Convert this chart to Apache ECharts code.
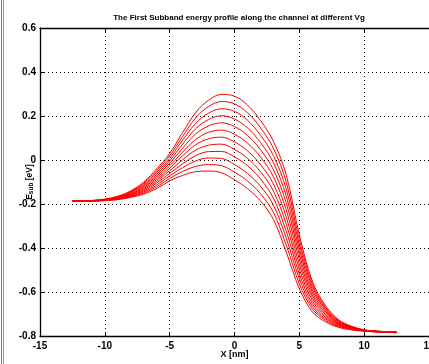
<!DOCTYPE html>
<html>
<head>
<meta charset="utf-8">
<script src="https://cdn.jsdelivr.net/npm/echarts@6/dist/echarts.min.js"></script>
<style>
  html, body { margin: 0; padding: 0; background: #fff; }
  #chart { width: 429px; height: 364px; }
</style>
</head>
<body>
<div id="chart"></div>
<script>
// position along the channel [nm]
var xs = [-12.5, -11, -10, -9, -8, -7, -6, -5, -4, -3, -2, -1, 0, 1, 2, 3, 4, 5, 6, 7, 8, 9, 10, 11, 12.5];

// first subband energy [eV], one curve per Vg (highest barrier first)
var esub1  = [-0.187,-0.184,-0.178,-0.165,-0.140,-0.100,-0.040, 0.030, 0.125, 0.215, 0.272, 0.298, 0.290, 0.250, 0.180, 0.085,-0.070,-0.340,-0.550,-0.660,-0.725,-0.755,-0.772,-0.778,-0.782];
var esub2  = [-0.187,-0.184,-0.179,-0.166,-0.143,-0.105,-0.048, 0.019, 0.107, 0.191, 0.243, 0.266, 0.255, 0.215, 0.147, 0.053,-0.102,-0.362,-0.563,-0.667,-0.728,-0.757,-0.773,-0.778,-0.782];
var esub3  = [-0.187,-0.185,-0.179,-0.168,-0.145,-0.110,-0.056, 0.007, 0.090, 0.166, 0.213, 0.233, 0.221, 0.181, 0.113, 0.020,-0.134,-0.385,-0.575,-0.674,-0.731,-0.758,-0.773,-0.779,-0.783];
var esub4  = [-0.187,-0.185,-0.180,-0.169,-0.148,-0.115,-0.065,-0.004, 0.072, 0.142, 0.184, 0.201, 0.186, 0.146, 0.080,-0.012,-0.165,-0.407,-0.588,-0.680,-0.735,-0.760,-0.774,-0.779,-0.783];
var esub5  = [-0.187,-0.185,-0.181,-0.170,-0.151,-0.120,-0.073,-0.015, 0.054, 0.118, 0.155, 0.169, 0.152, 0.112, 0.047,-0.044,-0.197,-0.429,-0.601,-0.687,-0.738,-0.761,-0.774,-0.779,-0.783];
var esub6  = [-0.187,-0.185,-0.181,-0.172,-0.154,-0.125,-0.081,-0.027, 0.036, 0.093, 0.126, 0.136, 0.117, 0.077, 0.014,-0.076,-0.229,-0.451,-0.614,-0.694,-0.741,-0.763,-0.775,-0.780,-0.783];
var esub7  = [-0.188,-0.186,-0.182,-0.173,-0.156,-0.130,-0.089,-0.038, 0.019, 0.069, 0.096, 0.104, 0.082, 0.042,-0.020,-0.109,-0.261,-0.474,-0.626,-0.701,-0.744,-0.764,-0.775,-0.780,-0.784];
var esub8  = [-0.188,-0.186,-0.182,-0.175,-0.159,-0.135,-0.097,-0.049, 0.001, 0.045, 0.067, 0.072, 0.048, 0.008,-0.053,-0.141,-0.293,-0.496,-0.639,-0.708,-0.747,-0.766,-0.776,-0.780,-0.784];
var esub9  = [-0.188,-0.186,-0.183,-0.176,-0.162,-0.140,-0.105,-0.061,-0.017, 0.020, 0.038, 0.039, 0.014,-0.026,-0.086,-0.173,-0.325,-0.518,-0.652,-0.715,-0.750,-0.767,-0.776,-0.781,-0.784];
var esub10 = [-0.188,-0.186,-0.184,-0.177,-0.165,-0.145,-0.114,-0.072,-0.035,-0.004, 0.009, 0.007,-0.021,-0.061,-0.119,-0.205,-0.356,-0.540,-0.665,-0.721,-0.754,-0.769,-0.777,-0.781,-0.784];
var esub11 = [-0.188,-0.187,-0.184,-0.179,-0.167,-0.150,-0.122,-0.084,-0.052,-0.029,-0.021,-0.026,-0.055,-0.095,-0.153,-0.238,-0.388,-0.563,-0.677,-0.728,-0.757,-0.770,-0.777,-0.781,-0.785];
var esub12 = [-0.188,-0.187,-0.185,-0.180,-0.170,-0.155,-0.130,-0.095,-0.070,-0.053,-0.050,-0.058,-0.090,-0.130,-0.186,-0.270,-0.420,-0.585,-0.690,-0.735,-0.760,-0.772,-0.778,-0.782,-0.785];

var curves = [esub1, esub2, esub3, esub4, esub5, esub6, esub7, esub8, esub9, esub10, esub11, esub12];

var chartDom = document.getElementById('chart');
var myChart = echarts.init(chartDom, null, { renderer: 'canvas' });

var font = 'Liberation Sans, Arial, sans-serif';
var gridLine = { show: true, lineStyle: { color: '#000', width: 1, type: [1, 3] } };

var series = curves.map(function (c, i) {
    return {
        name: 'Vg' + (i + 1),
        type: 'line',
        data: xs.map(function (x, j) { return [x, c[j]]; }),
        showSymbol: false,
        smooth: 0.35,
        lineStyle: { color: '#ff0000', width: 1 },
        itemStyle: { color: '#ff0000' },
        z: 3
    };
});

var option = {
    backgroundColor: '#fff',
    animation: false,
    title: {
        text: 'The First Subband energy profile along the channel at different Vg',
        left: 234,
        textAlign: 'center',
        top: 9,
        textStyle: { fontFamily: font, fontSize: 8, fontWeight: 'bold', color: '#000' }
    },
    grid: { left: 40, right: 0, top: 28, bottom: 28, outerBoundsMode: 'none' },
    xAxis: [{
        type: 'value',
        min: -15, max: 15, interval: 5,
        position: 'bottom',
        name: 'X [nm]',
        nameLocation: 'middle',
        nameGap: 14,
        nameMoveOverlap: false,
        nameTextStyle: { fontFamily: font, fontSize: 9, fontWeight: 'bold', color: '#000' },
        axisLine: { onZero: false, lineStyle: { color: '#000', width: 1.3 } },
        axisTick: { inside: true, length: 4, lineStyle: { color: '#000' } },
        axisLabel: { fontFamily: font, fontSize: 10, fontWeight: 'bold', color: '#000', margin: 5 },
        splitLine: gridLine
    }, {
        type: 'value',
        min: -15, max: 15, interval: 5,
        position: 'top',
        axisLine: { onZero: false, lineStyle: { color: '#000', width: 1.3 } },
        axisTick: { inside: true, length: 4, lineStyle: { color: '#000' } },
        axisLabel: { show: false },
        splitLine: { show: false }
    }],
    yAxis: {
        type: 'value',
        min: -0.8, max: 0.6, interval: 0.2,
        name: '{e|E}{s|sub}{e| [eV]}',
        nameLocation: 'middle',
        nameGap: 5,
        nameMoveOverlap: false,
        nameTextStyle: {
            rich: {
                e: { fontFamily: font, fontSize: 8.5, fontWeight: 'bold', color: '#000' },
                s: { fontFamily: font, fontSize: 6.5, fontWeight: 'bold', color: '#000', verticalAlign: 'bottom', padding: [4, 0, 0, 0] }
            }
        },
        axisLine: { show: true, onZero: false, lineStyle: { color: '#000', width: 1.3 } },
        axisTick: { show: true, inside: true, length: 4, lineStyle: { color: '#000' } },
        axisLabel: {
            fontFamily: font, fontSize: 10, fontWeight: 'bold', color: '#000', margin: 4,
            formatter: function (v) { return String(+v.toFixed(1)); }
        },
        splitLine: gridLine
    },
    graphic: [
        { type: 'line', shape: { x1: 1.5, y1: 0, x2: 1.5, y2: 364 }, style: { stroke: '#6a6af2', lineWidth: 1 } },
        { type: 'line', shape: { x1: 3.5, y1: 0, x2: 3.5, y2: 364 }, style: { stroke: '#8a8af5', lineWidth: 1 } }
    ],
    series: series
};

option && myChart.setOption(option);
</script>
</body>
</html>
